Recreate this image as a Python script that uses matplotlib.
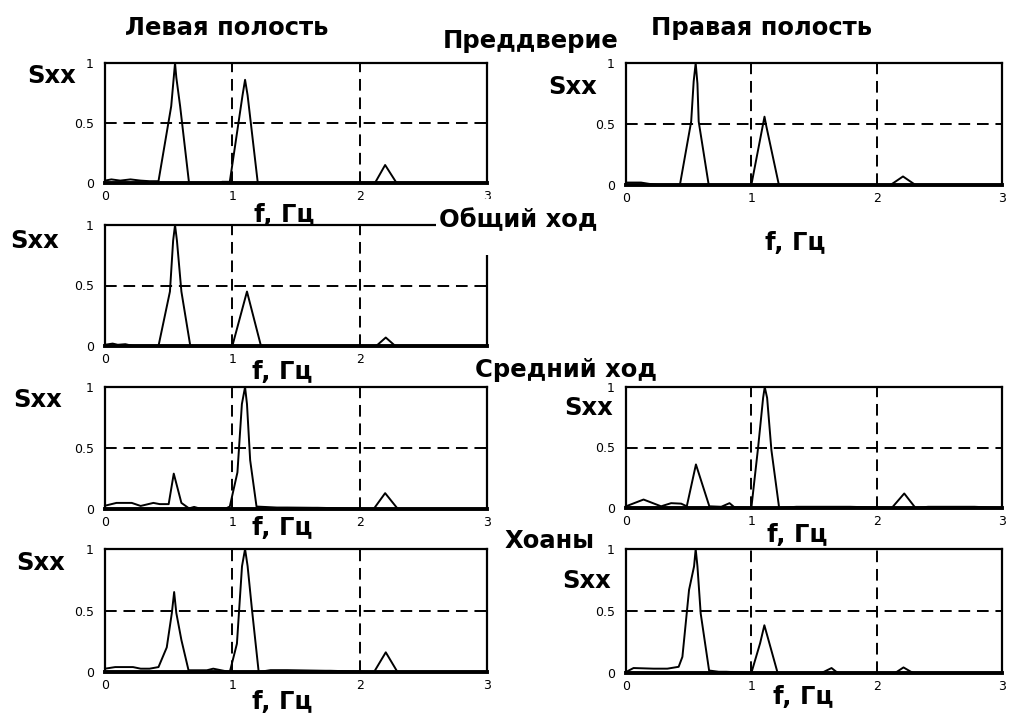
import matplotlib
matplotlib.use("Agg")
import matplotlib.pyplot as plt
from matplotlib.patches import Rectangle

# Спектры Sxx(f) по отделам носовой полости (нормированные)
left_cavity_f = [0.00, 0.05, 0.12, 0.20, 0.28, 0.35, 0.42, 0.52, 0.54, 0.55, 0.56, 0.59, 0.66,
                 0.90, 0.92, 0.98, 1.08, 1.10, 1.12, 1.20, 2.12, 2.20, 2.29, 3.00]
left_cavity_s = [0.02, 0.03, 0.02, 0.03, 0.02, 0.015, 0.015, 0.64, 0.88, 1.00, 0.88, 0.64, 0.00,
                 0.00, 0.01, 0.01, 0.73, 0.86, 0.73, 0.00, 0.00, 0.15, 0.00, 0.00]

right_cavity_f = [0.00, 0.05, 0.12, 0.18, 0.25, 0.43, 0.52, 0.54, 0.556, 0.57, 0.58, 0.66,
                  1.00, 1.09, 1.105, 1.12, 1.22, 2.11, 2.21, 2.31, 3.00]
right_cavity_s = [0.02, 0.02, 0.02, 0.01, 0.00, 0.00, 0.52, 0.85, 1.00, 0.83, 0.52, 0.00,
                  0.00, 0.48, 0.56, 0.48, 0.00, 0.00, 0.07, 0.00, 0.00]

common_f = [0.00, 0.06, 0.10, 0.16, 0.22, 0.42, 0.51, 0.535, 0.55, 0.565, 0.60, 0.67,
            1.00, 1.115, 1.225, 2.13, 2.205, 2.28, 3.00]
common_s = [0.01, 0.02, 0.01, 0.015, 0.00, 0.00, 0.45, 0.87, 1.00, 0.87, 0.45, 0.00,
            0.00, 0.45, 0.00, 0.00, 0.07, 0.00, 0.00]

middle_left_f = [0.00, 0.09, 0.21, 0.28, 0.38, 0.43, 0.50, 0.54, 0.60, 0.66, 0.70, 0.74, 0.95,
                 0.98, 1.04, 1.075, 1.10, 1.115, 1.14, 1.19, 1.35, 1.43, 1.63, 1.67,
                 2.11, 2.20, 2.30, 3.00]
middle_left_s = [0.027, 0.05, 0.05, 0.025, 0.05, 0.04, 0.04, 0.29, 0.05, 0.005, 0.017, 0.005, 0.005,
                 0.02, 0.30, 0.86, 1.00, 0.86, 0.40, 0.02, 0.012, 0.012, 0.01, 0.01,
                 0.00, 0.13, 0.00, 0.00]

middle_right_f = [0.00, 0.14, 0.28, 0.36, 0.44, 0.485, 0.558, 0.665, 0.76, 0.826, 0.866,
                  1.00, 1.054, 1.094, 1.107, 1.126, 1.16, 1.222, 1.36, 1.44, 1.56, 1.79,
                  2.12, 2.22, 2.31, 2.41, 2.45, 2.74, 2.78, 3.00]
middle_right_s = [0.014, 0.07, 0.014, 0.04, 0.036, 0.014, 0.36, 0.014, 0.01, 0.04, 0.005,
                  0.00, 0.50, 0.91, 1.00, 0.91, 0.48, 0.00, 0.01, 0.01, 0.01, 0.01,
                  0.00, 0.12, 0.00, 0.01, 0.01, 0.01, 0.01, 0.00]

choanae_left_f = [0.00, 0.08, 0.22, 0.28, 0.35, 0.42, 0.485, 0.525, 0.543, 0.56, 0.60, 0.656,
                  0.80, 0.85, 0.98, 1.036, 1.076, 1.10, 1.12, 1.155, 1.207, 1.30, 1.43,
                  1.73, 1.77, 2.113, 2.205, 2.297, 3.00]
choanae_left_s = [0.027, 0.04, 0.04, 0.027, 0.027, 0.04, 0.20, 0.48, 0.65, 0.48, 0.26, 0.014,
                  0.014, 0.027, 0.00, 0.23, 0.86, 1.00, 0.86, 0.50, 0.00, 0.015, 0.015,
                  0.01, 0.01, 0.00, 0.16, 0.00, 0.00]

choanae_right_f = [0.00, 0.06, 0.22, 0.33, 0.42, 0.45, 0.503, 0.543, 0.556, 0.57, 0.596, 0.663,
                   0.74, 0.80, 1.00, 1.07, 1.104, 1.144, 1.21, 1.56, 1.64, 1.69,
                   2.147, 2.214, 2.29, 3.00]
choanae_right_s = [0.008, 0.04, 0.035, 0.035, 0.05, 0.13, 0.67, 0.86, 1.00, 0.86, 0.48, 0.02,
                   0.01, 0.01, 0.00, 0.24, 0.385, 0.24, 0.00, 0.00, 0.04, 0.00,
                   0.00, 0.045, 0.00, 0.00]

x_ticks = [0, 1, 2, 3]
x_ticklabels = ["0", "1", "2", "3"]
y_ticks = [0, 0.5, 1]
y_ticklabels = ["0", "0.5", "1"]

W, H = 1011, 713
BOLD = dict(fontsize=17.5, fontweight="bold", family="DejaVu Sans", color="black")

fig = plt.figure(figsize=(W / 100, H / 100), dpi=100)
fig.patch.set_facecolor("white")


def px(x, y):
    return x / W, 1 - y / H


def panel(box, f, s, sxx_xy, flab_xy, xlabels=x_ticklabels):
    x0, y0, x1, y1 = box
    ax = fig.add_axes([x0 / W, 1 - y1 / H, (x1 - x0) / W, (y1 - y0) / H])
    ax.plot(f, s, color="black", lw=1.4, clip_on=False, zorder=3)
    ax.set_xlim(0, 3)
    ax.set_ylim(0, 1)
    ax.set_xticks(x_ticks)
    ax.set_xticklabels(xlabels)
    ax.set_yticks(y_ticks)
    ax.set_yticklabels(y_ticklabels)
    ax.tick_params(axis="y", length=0, labelsize=9, pad=8)
    ax.tick_params(axis="x", length=0, labelsize=9, pad=5)
    for xv in (1, 2):
        ax.axvline(xv, color="black", lw=1.4, dashes=(6, 3.5), zorder=1)
    ax.axhline(0.5, color="black", lw=1.4, dashes=(6, 3.5), zorder=1)
    for sp in ax.spines.values():
        sp.set_linewidth(1.6)
    ax.spines["bottom"].set_linewidth(2.8)
    fig.text(*px(*sxx_xy), "Sxx", ha="center", va="center", **BOLD)
    fig.text(*px(*flab_xy), "f, Гц", ha="center", va="center", **BOLD)
    return ax


panel((105, 63, 487, 183), left_cavity_f, left_cavity_s, (52, 76), (284, 215))
panel((626, 63, 1002, 185), right_cavity_f, right_cavity_s, (573, 87), (795, 243))
# у "Общего хода" цифра 3 уходит под надпись "Средний ход"
panel((105, 225, 487, 346), common_f, common_s, (35, 241), (282, 372),
      xlabels=["0", "1", "2", ""])
panel((105, 387, 487, 509), middle_left_f, middle_left_s, (38, 400), (282, 528))
panel((626, 387, 1002, 508), middle_right_f, middle_right_s, (589, 408), (797, 535))
panel((105, 549, 487, 672), choanae_left_f, choanae_left_s, (41, 563), (282, 702))
panel((626, 549, 1002, 673), choanae_right_f, choanae_right_s, (587, 581), (803, 697))

# подпись "Общий ход" перекрывает угол рамки
fig.patches.append(Rectangle(px(436, 255), 170 / W, 56 / H, transform=fig.transFigure,
                             facecolor="white", edgecolor="none", zorder=5))

titles = [("Левая полость", 227, 28), ("Преддверие", 531, 41), ("Правая полость", 762, 28),
          ("Общий ход", 518, 220), ("Средний ход", 566, 370), ("Хоаны", 550, 541)]
for txt, x, y in titles:
    fig.text(*px(x, y), txt, ha="center", va="center", zorder=6, **BOLD)

fig.savefig("out.png", dpi=100, facecolor="white")
